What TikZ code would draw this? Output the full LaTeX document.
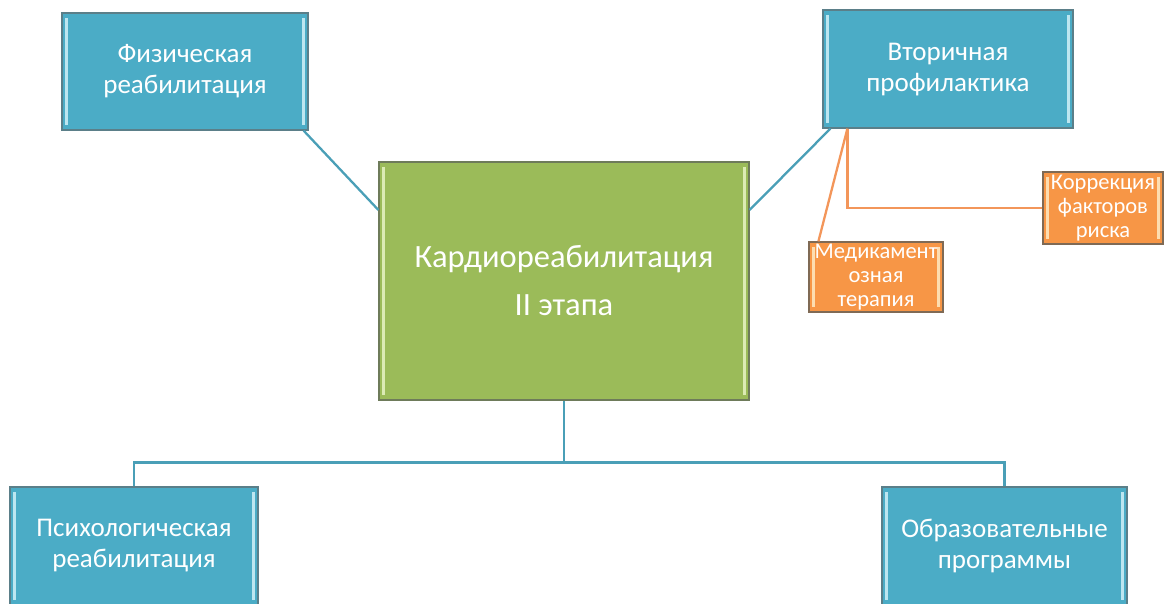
\documentclass[tikz,border=0pt]{standalone}
\usepackage{fontspec}
\setmainfont{Carlito}
\definecolor{bfill}{HTML}{4BACC6}
\definecolor{bedge}{HTML}{5B7F89}
\definecolor{bbevel}{HTML}{BDE6F0}
\definecolor{gfill}{HTML}{9BBB59}
\definecolor{gedge}{HTML}{6E7B5A}
\definecolor{gbevel}{HTML}{DCEBB4}
\definecolor{ofill}{HTML}{F79646}
\definecolor{oedge}{HTML}{7F6A55}
\definecolor{obevel}{HTML}{FDDDB0}
\definecolor{bline}{HTML}{4A9FB7}
\definecolor{oline}{HTML}{F3965A}
\tikzset{
  box/.style={draw=#1edge, line width=1.2pt, fill=#1fill, text=white, align=center, inner sep=0pt,
    path picture={
      \draw[#1bevel, line width=2.2pt]
        ([xshift=4.5pt,yshift=-5pt]path picture bounding box.north west) --
        ([xshift=4.5pt,yshift=5pt]path picture bounding box.south west);
      \draw[#1bevel, line width=2.2pt]
        ([xshift=-4.5pt,yshift=-5pt]path picture bounding box.north east) --
        ([xshift=-4.5pt,yshift=5pt]path picture bounding box.south east);
    }},
  bluebox/.style={box=b, font=\fontsize{27}{31}\selectfont},
  greenbox/.style={box=g, font=\fontsize{32.5}{48}\selectfont},
  orangebox/.style={box=o, font=\fontsize{22.5}{24}\selectfont},
  blink/.style={draw=bline, line width=2.3pt},
  olink/.style={draw=oline, line width=2.3pt},
}
\begin{document}
\begin{tikzpicture}[x=1pt,y=-1pt]
\useasboundingbox (0,0) rectangle (1164,603);
\clip (0,0) rectangle (1164,603);
\node[bluebox, minimum width=246pt, minimum height=117pt] (phys) at (185,71.5) {Физическая\\реабилитация};
\node[bluebox, minimum width=250pt, minimum height=118pt, text depth=4pt] (sec) at (948,69) {Вторичная\\профилактика};
\node[greenbox, minimum width=370pt, minimum height=238pt] (cent) at (564,281) {Кардиореабилитация\\II этапа};
\node[orangebox, minimum width=120pt, minimum height=72pt] (corr) at (1103,208) {Коррекция\\факторов\\риска};
\node[orangebox, minimum width=134pt, minimum height=70pt] (med) at (876,277) {Медикамент\\озная\\терапия};
\node[bluebox, minimum width=248pt, minimum height=118pt] (psych) at (134,546) {Психологическая\\реабилитация};
\node[bluebox, minimum width=245pt, minimum height=118pt] (edu) at (1004.5,546) {Образовательные\\программы};
\draw[blink] ([xshift=-5pt]phys.south east) -- ([yshift=71pt]cent.west);
\draw[blink] ([xshift=8pt]sec.south west) -- ([yshift=71pt]cent.east);
\coordinate (o) at ([xshift=25pt]sec.south west);
\draw[olink] (o) |- (corr.west);
\draw[olink] (o) -- ([xshift=10pt]med.north west);
\draw[blink] (cent.south) -- ++(0,62) coordinate (j);
\draw[blink] (psych.north) |- (j) -| (edu.north);
\end{tikzpicture}
\end{document}
